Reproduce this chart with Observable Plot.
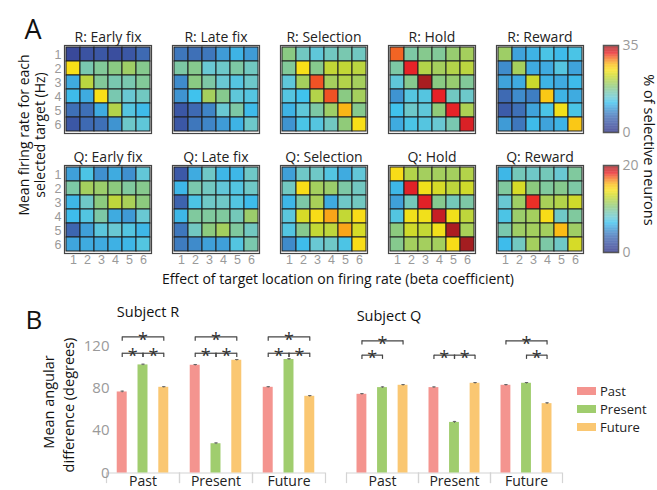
<!DOCTYPE html>
<html><head><meta charset="utf-8">
<script src="https://cdn.jsdelivr.net/npm/d3@7"></script>
<script src="https://cdn.jsdelivr.net/npm/@observablehq/plot@0.6"></script>
<style>
body{margin:0;background:#fff;}
#fig{position:relative;width:657px;height:490px;overflow:hidden;background:#fff;font-family:"Open Sans",sans-serif;}
#fig > *{position:absolute;}
</style></head><body><div id="fig"></div>
<script>
// ---------- Panel A data: % of selective neurons (rows = selected target 1..6, cols = target location 1..6)
const targets = [1, 2, 3, 4, 5, 6];
const periods = ["Early fix", "Late fix", "Selection", "Hold", "Reward"];
const rMax = 35, qMax = 20;

const rEarlyFix = [
  [2.5, 3.5, 4, 3, 4, 6],
  [25, 16, 17, 18, 19.5, 17.5],
  [10.5, 21.5, 17, 16, 16, 17],
  [11.5, 10.5, 25, 16, 14, 15],
  [6.5, 6.5, 10.5, 21, 13, 11.5],
  [4, 6, 6.5, 9, 14.5, 13.5]];
const rLateFix = [
  [7, 6.5, 7, 9.5, 11, 9.5],
  [16.5, 17.5, 14, 14.5, 16.5, 15],
  [8.5, 18, 16.5, 14, 13, 14.5],
  [9, 12, 20, 17.5, 13.5, 13],
  [4, 6, 8, 14, 16.5, 11.5],
  [4, 7, 8, 9.5, 11, 14.5]];
const rSelection = [
  [18, 15, 13.5, 15, 16, 15],
  [17, 25, 17.5, 22, 22, 21.5],
  [13.5, 20, 30.5, 20, 21, 20],
  [13, 12, 21, 30.5, 18, 20],
  [11, 13.5, 16.5, 19.5, 27.5, 17.5],
  [9, 12.5, 13, 15, 18.5, 25]];
const rHold = [
  [30, 16.5, 17.5, 17, 19, 20],
  [16.5, 32, 21, 20, 21, 21.5],
  [13.5, 17.5, 34.5, 18, 19, 17],
  [9, 13, 13, 32, 15, 14.5],
  [12, 14.5, 13.5, 18.5, 32, 20.5],
  [10.5, 12.5, 13, 14, 16, 32.5]];
const rReward = [
  [19.5, 10, 11, 12.5, 11.5, 12.5],
  [8.5, 20, 10.5, 10.5, 13, 10],
  [10, 10.5, 22.5, 11, 10.5, 11.5],
  [6, 8.5, 7.5, 26.5, 11, 10.5],
  [4.5, 6.5, 10, 12.5, 24.5, 12.5],
  [9.5, 7, 11.5, 10, 11, 26.5]];

const qEarlyFix = [
  [5.6, 7.2, 5, 6, 5, 7.8],
  [9.4, 11.4, 11, 10.4, 9.6, 10],
  [6.4, 8.4, 10.4, 12.4, 11.6, 10.4],
  [6.6, 7.4, 9.4, 6, 5.4, 8],
  [3.2, 5.6, 7.6, 8, 7.4, 6.4],
  [5.8, 6, 6, 6.2, 6.4, 7.4]];
const qLateFix = [
  [2.4, 6, 8.4, 6.4, 6.4, 8.4],
  [6.4, 9.2, 8.6, 7.8, 7.4, 8.4],
  [3, 7.2, 8.4, 8.4, 7.4, 6.6],
  [6.4, 9.6, 9.6, 9.6, 8.8, 11],
  [4, 8.6, 10.4, 11.4, 9.6, 8.6],
  [4.2, 4.8, 5.6, 5.6, 7.4, 9.2]];
const qSelection = [
  [5.6, 8.4, 8.4, 7.4, 6, 7.8],
  [8.6, 14.4, 11.4, 11, 9.4, 8.6],
  [6.4, 9.4, 11.6, 6, 8.4, 8.6],
  [7.6, 13.2, 14.4, 16, 12.6, 14.4],
  [7.4, 10, 12.6, 12.4, 16, 13.2],
  [4.8, 6.6, 8, 8.4, 7.2, 14.4]];
const qHold = [
  [14.4, 12, 11.4, 11.4, 11.4, 12],
  [6.4, 18.4, 14, 13.2, 12.4, 13],
  [5.6, 8.8, 18.4, 10, 8.8, 9.4],
  [7.4, 14, 14, 19, 14, 12.4],
  [10.4, 13, 12.6, 14, 19.6, 11.6],
  [10, 11.4, 11.4, 11.4, 14.4, 19.8]];
const qReward = [
  [6.4, 8.8, 8.4, 8.8, 8, 9.6],
  [9.6, 13.2, 10.4, 9.6, 10, 9.4],
  [8, 11.2, 18, 11.6, 12, 13],
  [7.2, 11, 11.4, 14.4, 8.4, 9.6],
  [9.2, 11.2, 11.4, 11.4, 15.6, 11.2],
  [6.6, 8.6, 11.4, 9.4, 8.4, 13.2]];

// ---------- Panel B data: mean angular difference (degrees)
const groups = ["Past", "Present", "Future"];
const series = ["Past", "Present", "Future"];
const seriesColors = ["#f4948f", "#a0cd6e", "#fac772"];
const rBars = [[76.4, 101.9, 80.8], [101.6, 27.6, 106.3], [80.8, 107, 72.3]];
const rErrs = [[0.8, 0.7, 0.6], [0.7, 0.8, 0.7], [0.6, 0.8, 0.7]];
const qBars = [[74.2, 80.5, 82.7], [80.5, 47.7, 84.6], [82.7, 84.6, 65.4]];
const qErrs = [[0.7, 0.7, 0.7], [0.7, 0.9, 0.7], [0.7, 0.7, 0.8]];
// significance brackets: [group, from series index, to series index, level]
const rSig = [["Past", 0, 2, "top"], ["Past", 0, 1, "low"], ["Past", 1, 2, "low"],
              ["Present", 0, 2, "top"], ["Present", 0, 1, "low"], ["Present", 1, 2, "low"],
              ["Future", 0, 2, "top"], ["Future", 0, 1, "low"], ["Future", 1, 2, "low"]];
const qSig = [["Past", 0, 2, "top"], ["Past", 0, 1, "low"],
              ["Present", 0, 1, "low"], ["Present", 1, 2, "low"],
              ["Future", 0, 2, "top"], ["Future", 1, 2, "low"]];
const rSigLevels = {top: 128.3, low: 112.9};
const qSigLevels = {top: 124.6, low: 111.1};
const yTicks = [0, 40, 80, 120];

// ---------- colour map (jet-like)
const jetStops = [0, .08, .18, .27, .34, .4, .46, .52, .58, .64, .71, .78, .85, .91, 1];
const jetColors = ["#2c3285","#3a4c9d","#3e6db5","#3f9ad6","#3ec2ee","#69c8d3","#7ac8ae","#8cca7e","#a9d058","#c8d92e","#f8e118","#fbbc15","#f36d23","#ea2228","#9a1c1f"];
const jetScale = d3.scaleLinear().domain(jetStops).range(jetColors).interpolate(d3.interpolateRgb).clamp(true);
const jet = t => jetScale(t);

const FONT = "Open Sans";
const TICKFONT = "Liberation Sans";
const fig = document.getElementById("fig");
function place(node, left, top) {
  node.style.left = left + "px"; node.style.top = top + "px";
  fig.appendChild(node);
}

function heat(matrix, title, max, showY, showX) {
  const data = matrix.flatMap((row, i) => row.map((v, j) => ({row: targets[i], col: targets[j], v})));
  return Plot.plot({
    width: 103, height: 126, marginLeft: 16, marginRight: 0, marginTop: 20, marginBottom: 18,
    style: {background: "transparent", overflow: "visible", fontFamily: FONT},
    x: {domain: targets, padding: 0, axis: null},
    y: {domain: targets, padding: 0, axis: null},
    color: {type: "linear", domain: [0, max], interpolate: jet},
    marks: [
      Plot.cell(data, {x: "col", y: "row", fill: "v", stroke: "#1e1e1e", strokeWidth: 1, inset: 0}),
      Plot.frame({stroke: "#444", strokeWidth: 1.2}),
      showY ? Plot.axisY({tickSize: 0, tickPadding: 3, fontSize: 12.5, fontFamily: TICKFONT, color: "#9a9a9a", label: null}) : null,
      showX ? Plot.axisX({tickSize: 0, tickPadding: 2, fontSize: 12.5, fontFamily: TICKFONT, color: "#9a9a9a", label: null}) : null,
      Plot.text([title], {frameAnchor: "top", lineAnchor: "middle", dy: -8, fontSize: 14, fill: "#222"})
    ]
  });
}

function colorbar(max) {
  const n = 120;
  const steps = d3.range(n).map(i => i * max / n);
  return Plot.plot({
    width: 40, height: 103, marginLeft: 0, marginRight: 25, marginTop: 8, marginBottom: 8,
    style: {background: "transparent", overflow: "visible", fontFamily: FONT},
    x: {domain: [0, 1], axis: null},
    y: {domain: [0, max], axis: null},
    color: {type: "linear", domain: [0, max], interpolate: jet},
    marks: [
      Plot.rect(steps, {x1: 0, x2: 1, y1: d => d, y2: d => d + max / n, fill: d => d + max / (2 * n), inset: 0}),
      Plot.frame({stroke: "#555", strokeWidth: 1.5}),
      Plot.axisY({anchor: "right", ticks: [0, max], tickSize: 0, tickPadding: 4, fontSize: 14, color: "#9a9a9a", label: null})
    ]
  });
}

function bars(values, errs, sig, levels, o) {
  const data = groups.flatMap((g, gi) => series.map((s, si) => ({group: g, series: s, pos: si - 1, v: values[gi][si], e: errs[gi][si]})));
  const br = sig.map(([g, a, b, lvl]) => ({group: g, x1: a - 1, x2: b - 1, y: levels[lvl]}));
  const ends = br.flatMap(d => [{group: d.group, x: d.x1, y: d.y}, {group: d.group, x: d.x2, y: d.y}]);
  const bw = 0.24;
  return Plot.plot({
    width: o.width, height: 190, marginLeft: o.marginLeft, marginRight: o.marginRight, marginTop: 24, marginBottom: 17.5,
    style: {background: "transparent", overflow: "visible", fontFamily: FONT},
    fx: {domain: groups, padding: 0, axis: null},
    x: {domain: [-o.xHalf, o.xHalf], axis: null},
    y: {domain: [0, 140], axis: null},
    color: {domain: series, range: seriesColors},
    marks: [
      Plot.ruleY([0], {stroke: "#d4d4d4", strokeWidth: 1.2}),
      Plot.ruleX([-o.xHalf, o.xHalf], {y1: 0, y2: -10, stroke: "#d4d4d4", strokeWidth: 1.2}),
      Plot.rectY(data, {fx: "group", x1: d => d.pos - bw, x2: d => d.pos + bw, y: "v", fill: "series", inset: 0}),
      Plot.ruleX(data, {fx: "group", x: "pos", y1: d => d.v - d.e, y2: d => d.v + d.e, stroke: "#666"}),
      Plot.link(data, {fx: "group", x1: d => d.pos - 0.08, x2: d => d.pos + 0.08, y1: d => d.v + d.e, y2: d => d.v + d.e, stroke: "#666"}),
      Plot.link(br, {fx: "group", x1: "x1", x2: "x2", y1: "y", y2: "y", stroke: "#444", strokeWidth: 1.2}),
      Plot.ruleX(ends, {fx: "group", x: "x", y1: "y", y2: d => d.y - 4, stroke: "#444", strokeWidth: 1.2}),
      Plot.text(br, {fx: "group", x: d => (d.x1 + d.x2) / 2, y: "y", text: () => "*", fontSize: 18, fill: "#333", dy: 3}),
      o.showY ? Plot.axisY({ticks: yTicks, tickSize: 0, tickPadding: 0, dx: 3, fontSize: 15, color: "#9a9a9a", label: null}) : null,
      Plot.axisFx({anchor: "bottom", tickSize: 0, tickPadding: 3, fontSize: 14, color: "#222", label: null})
    ]
  });
}

// ---------- layout
const colLeft = [64, 172, 280, 388, 496];
const rMats = [rEarlyFix, rLateFix, rSelection, rHold, rReward];
const qMats = [qEarlyFix, qLateFix, qSelection, qHold, qReward];
periods.forEach((p, i) => {
  place(heat(rMats[i], "R: " + p, rMax, i === 0, false), colLeft[i] - 16, 25);
  place(heat(qMats[i], "Q: " + p, qMax, i === 0, true), colLeft[i] - 16, 145);
});
place(colorbar(rMax), 603, 37);
place(colorbar(qMax), 603, 157);

place(bars(rBars, rErrs, rSig, rSigLevels, {width: 330, marginLeft: 104.6, marginRight: 4, xHalf: 1.756, showY: true}), 0, 300);
place(bars(qBars, qErrs, qSig, qSigLevels, {width: 240, marginLeft: 15, marginRight: 7.5, xHalf: 1.751, showY: false}), 330, 300);

// legend
const legend = document.createElement("div");
legend.style.width = "80px";
series.forEach((s, i) => {
  const row = document.createElement("div");
  row.style.cssText = "display:flex;align-items:center;height:18px;";
  const sw = document.createElement("span");
  sw.style.cssText = `display:inline-block;width:19px;height:8px;background:${seriesColors[i]};margin-right:4px;`;
  const tx = document.createElement("span");
  tx.textContent = s;
  tx.style.cssText = "display:inline-block;font-size:13px;line-height:18px;height:18px;color:#222;";
  row.append(sw, tx);
  legend.appendChild(row);
});
place(legend, 577, 382);

// text overlay
const svg = d3.create("svg").attr("width", 657).attr("height", 490)
  .style("font-family", FONT).style("pointer-events", "none");
const texts = [
  {t: "A", x: 33, y: 28, s: 27},
  {t: "B", x: 34, y: 319, s: 26},
  {t: "Effect of target location on firing rate (beta coefficient)", x: 338, y: 278, s: 14},
  {t: "Mean firing rate for each", x: 23, y: 135, s: 14, r: -90},
  {t: "selected target (Hz)", x: 39, y: 135, s: 14, r: -90},
  {t: "% of selective neurons", x: 649, y: 150, s: 14.5, r: 90},
  {t: "Subject R", x: 148, y: 311, s: 14.5},
  {t: "Subject Q", x: 389, y: 315, s: 14.5},
  {t: "Mean angular", x: 48, y: 402, s: 14.5, r: -90},
  {t: "difference (degrees)", x: 68, y: 405, s: 14.5, r: -90}
];
svg.selectAll("text").data(texts).join("text")
  .attr("transform", d => `translate(${d.x},${d.y}) rotate(${d.r || 0})`)
  .attr("text-anchor", "middle").attr("dominant-baseline", "central")
  .attr("font-size", d => d.s).attr("fill", "#111").text(d => d.t);
place(svg.node(), 0, 0);
</script></body></html>
